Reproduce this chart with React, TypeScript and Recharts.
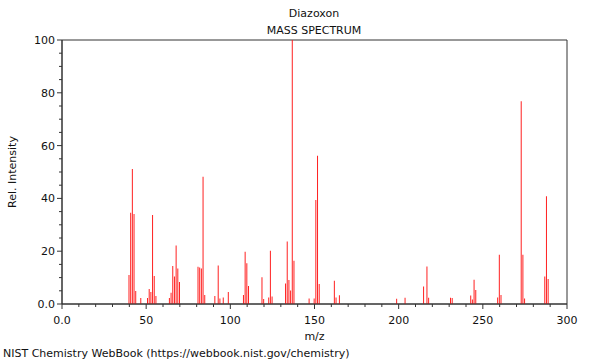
import { ComposedChart, Bar, XAxis, YAxis, ReferenceArea, Label } from "recharts"

// m/z of each peak and its relative intensity (%)
const mzValues = [
  40, 41, 42, 43, 44, 47, 51, 52, 53, 54, 55, 56, 64, 65, 66, 67, 68, 69, 70,
  81, 82, 83, 84, 85, 91, 93, 94, 96, 99, 108, 109, 110, 111, 119, 120, 123,
  124, 125, 133, 134, 135, 136, 137, 138, 147, 150, 151, 152, 153, 162, 163,
  165, 199, 204, 215, 217, 218, 231, 232, 243, 244, 245, 246, 259, 260, 261,
  273, 274, 275, 287, 288, 289
]
const intensities = [
  11.0, 34.6, 51.1, 34.1, 4.9, 2.3, 2.3, 5.7, 4.5, 33.7, 10.6, 3.0, 2.3, 4.3, 14.4, 10.4, 22.2, 13.4, 8.3,
  14.1, 13.8, 13.4, 48.2, 3.4, 3.0, 14.6, 2.1, 2.5, 4.5, 3.4, 19.8, 15.4, 6.8, 10.1, 1.9, 2.5,
  20.2, 2.8, 7.8, 23.7, 9.1, 5.1, 100, 16.4, 2.1, 2.1, 39.4, 56.2, 7.6, 8.8, 2.5,
  3.3, 2.0, 2.4, 6.6, 14.2, 2.4, 2.4, 2.3, 3.2, 1.7, 9.2, 5.3, 2.5, 18.7, 3.4,
  76.8, 18.7, 2.1, 10.4, 40.8, 9.5
]

const xTicks = Array.from({ length: 31 }, (_, i) => i * 10)
const yTicks = Array.from({ length: 21 }, (_, i) => i * 5)

const data = mzValues.map((mz, i) => ({ mz, intensity: intensities[i] }))

const font = "'DejaVu Sans', sans-serif"
const axisColor = "#333"

const XTick = ({ x, y, payload }: any) => {
  const major = payload.value % 50 === 0
  return (
    <g>
      <line x1={x} x2={x} y1={y} y2={y + (major ? 5 : 3)} stroke={axisColor} />
      {major && (
        <text x={x} y={y + 20} textAnchor="middle" fontSize={11} fontFamily={font} fill="#111">
          {payload.value === 0 ? "0.0" : payload.value}
        </text>
      )}
    </g>
  )
}

const YTick = ({ x, y, payload }: any) => {
  const major = payload.value % 20 === 0
  return (
    <g>
      <line x1={x} x2={x - (major ? 5 : 3)} y1={y} y2={y} stroke={axisColor} />
      {major && (
        <text x={x - 7} y={y + 4} textAnchor="end" fontSize={11} fontFamily={font} fill="#111">
          {payload.value === 0 ? "0.0" : payload.value}
        </text>
      )}
    </g>
  )
}

export default function App() {
  return (
    <div style={{ position: "absolute", left: 0, top: 0, width: 600, height: 360, background: "#fff", fontFamily: font }}>
      <div style={{ position: "absolute", left: 0, width: 628, top: 7, textAlign: "center", fontSize: 11, color: "#111" }}>
        Diazoxon
      </div>
      <div style={{ position: "absolute", left: 0, width: 628, top: 24, textAlign: "center", fontSize: 11, color: "#111" }}>
        MASS SPECTRUM
      </div>
      <ComposedChart
        width={600}
        height={360}
        data={data}
        margin={{ top: 40, right: 33, bottom: 26, left: 12 }}
      >
        <XAxis
          dataKey="mz"
          type="number"
          domain={[0, 300]}
          ticks={xTicks}
          interval={0}
          tickSize={0}
          tickMargin={0}
          tickLine={false}
          tick={<XTick />}
          height={30}
          stroke={axisColor}
          allowDataOverflow
        >
          <Label value="m/z" position="insideBottom" offset={-6} fontSize={11} fontFamily={font} fill="#111" />
        </XAxis>
        <YAxis
          type="number"
          domain={[0, 100]}
          ticks={yTicks}
          interval={0}
          tickSize={0}
          tickMargin={0}
          tickLine={false}
          tick={<YTick />}
          width={50}
          stroke={axisColor}
          allowDataOverflow
        >
          <Label value="Rel. Intensity" angle={-90} position="insideLeft" offset={0} fontSize={11} fontFamily={font} fill="#111" style={{ textAnchor: "middle" }} />
        </YAxis>
        <ReferenceArea x1={0} x2={300} y1={0} y2={100} stroke={axisColor} fill="none" fillOpacity={0} />
        <Bar dataKey="intensity" fill="#ff2020" barSize={1} isAnimationActive={false} />
      </ComposedChart>
      <div style={{ position: "absolute", left: 3, top: 347, fontSize: 11, color: "#111", whiteSpace: "nowrap" }}>
        NIST Chemistry WebBook (https://webbook.nist.gov/chemistry)
      </div>
    </div>
  )
}
